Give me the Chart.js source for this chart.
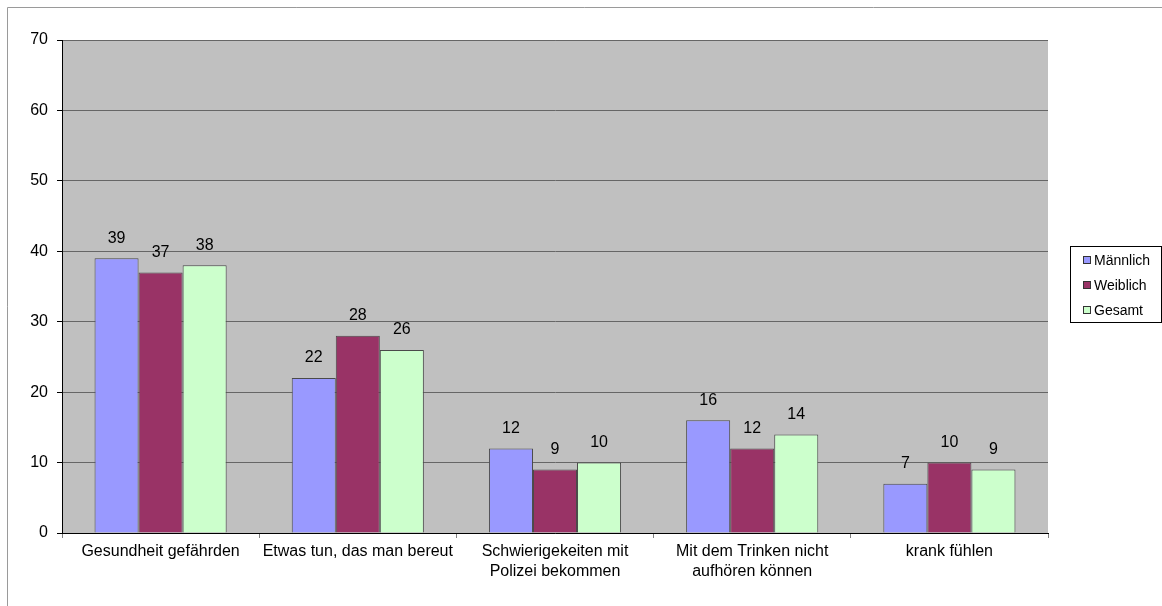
<!DOCTYPE html>
<html>
<head>
<meta charset="utf-8">
<script src="https://cdn.jsdelivr.net/npm/chart.js@4/dist/chart.umd.min.js"></script>
<style>
  html, body { margin: 0; padding: 0; background: #fff; }
  #wrap { width: 1162px; height: 606px; position: relative; }
</style>
</head>
<body>
<div id="wrap"><canvas id="c"></canvas></div>
<script>
const categories = [
  'Gesundheit gefährden',
  'Etwas tun, das man bereut',
  ['Schwierigekeiten mit', 'Polizei bekommen'],
  ['Mit dem Trinken nicht', 'aufhören können'],
  'krank fühlen',
];
const maennlich = [39, 22, 12, 16, 7];
const weiblich = [37, 28, 9, 12, 10];
const gesamt = [38, 26, 10, 14, 9];
const seriesNames = ['Männlich', 'Weiblich', 'Gesamt'];
const seriesColors = ['#9999ff', '#993366', '#ccffcc'];
const yTicks = [0, 10, 20, 30, 40, 50, 60, 70];

const FONT = 'Arial, "Liberation Sans", sans-serif';

// gray plot background + outer frame lines
const framePlugin = {
  id: 'frame',
  beforeDraw(chart) {
    const ctx = chart.ctx;
    const a = chart.chartArea;
    ctx.save();
    ctx.fillStyle = '#c0c0c0';
    ctx.fillRect(a.left, a.top, a.right - a.left, a.bottom - a.top);
    ctx.strokeStyle = '#9a9a9a';
    ctx.lineWidth = 1;
    ctx.beginPath();
    ctx.moveTo(7.5, 606);
    ctx.lineTo(7.5, 7.5);
    ctx.lineTo(1162, 7.5);
    ctx.stroke();
    // top edge of the plot area
    ctx.strokeStyle = '#8c8c8c';
    ctx.beginPath();
    ctx.moveTo(a.left, a.top + 0.5);
    ctx.lineTo(a.right - 0.5, a.top + 0.5);
    ctx.stroke();
    ctx.restore();
  },
};

// numbers above every bar
const valueLabels = {
  id: 'valueLabels',
  afterDatasetsDraw(chart) {
    const ctx = chart.ctx;
    ctx.save();
    ctx.font = '16px ' + FONT;
    ctx.fillStyle = '#000';
    ctx.textAlign = 'center';
    ctx.textBaseline = 'middle';
    chart.data.datasets.forEach((ds, i) => {
      chart.getDatasetMeta(i).data.forEach((bar, j) => {
        ctx.fillText(String(ds.data[j]), bar.x, bar.y - 20);
      });
    });
    ctx.restore();
  },
};

// boxed legend on the right
const boxLegend = {
  id: 'boxLegend',
  afterDraw(chart) {
    const ctx = chart.ctx;
    const x0 = 1070, y0 = 246, w = 91, h = 76;
    ctx.save();
    ctx.fillStyle = '#fff';
    ctx.fillRect(x0, y0, w, h);
    ctx.strokeStyle = '#000';
    ctx.lineWidth = 1;
    ctx.strokeRect(x0 + 0.5, y0 + 0.5, w, h);
    ctx.font = '14px ' + FONT;
    ctx.textBaseline = 'middle';
    ctx.textAlign = 'left';
    seriesNames.forEach((name, i) => {
      const cy = y0 + 14 + i * 25;
      ctx.fillStyle = seriesColors[i];
      ctx.fillRect(x0 + 13, cy - 4, 8, 8);
      ctx.strokeStyle = '#333';
      ctx.strokeRect(x0 + 13.5, cy - 3.5, 7, 7);
      ctx.fillStyle = '#000';
      ctx.fillText(name, x0 + 24, cy + 1);
    });
    ctx.restore();
  },
};

const values = [maennlich, weiblich, gesamt];
const datasets = seriesNames.map((name, i) => ({
  label: name,
  data: values[i],
  backgroundColor: seriesColors[i],
  borderColor: '#4a4a4a',
  borderWidth: 1,
  borderSkipped: 'bottom',
  categoryPercentage: 0.67,
  barPercentage: 1.0,
}));

new Chart(document.getElementById('c'), {
  type: 'bar',
  data: { labels: categories, datasets },
  options: {
    responsive: true,
    maintainAspectRatio: false,
    animation: false,
    layout: { padding: { top: 40, right: 114, left: 0, bottom: 0 } },
    scales: {
      x: {
        offset: true,
        grid: { offset: true, drawOnChartArea: false, drawTicks: true, tickLength: 5, tickColor: '#808080' },
        border: { color: '#000', width: 1 },
        ticks: { color: '#000', font: { family: FONT, size: 16, lineHeight: 1.25 }, padding: 4, maxRotation: 0, autoSkip: false },
        afterFit(scale) { scale.height = 73; },
      },
      y: {
        min: 0, max: 70,
        afterBuildTicks(scale) { scale.ticks = yTicks.map(v => ({ value: v })); },
        grid: { color: '#666666', tickColor: '#000', tickLength: 5, lineWidth: 1 },
        border: { color: '#000', width: 1 },
        ticks: { color: '#000', font: { family: FONT, size: 16 }, padding: 9 },
        afterFit(scale) { scale.width = 62; },
      },
    },
    plugins: {
      legend: { display: false },
      tooltip: { enabled: false },
    },
  },
  plugins: [framePlugin, valueLabels, boxLegend],
});
</script>
</body>
</html>
